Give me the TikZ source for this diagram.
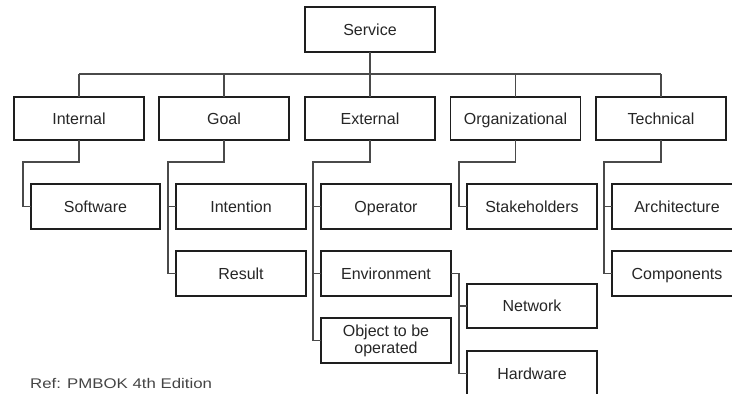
\documentclass[tikz,border=0pt]{standalone}
\usepackage{fontspec}
\setmainfont{Liberation Sans}
\definecolor{txt}{HTML}{262626}
\definecolor{boxline}{HTML}{1E1E1E}
\definecolor{conn}{HTML}{4A4A4A}
\definecolor{reftxt}{HTML}{444444}
\begin{document}
\begin{tikzpicture}[x=1pt,y=-1pt,
  basebox/.style={draw=boxline,line width=1.9pt,fill=white,minimum width=130pt,minimum height=45pt,
    inner sep=0pt,outer sep=0pt,text=txt,font=\fontsize{16}{16.8}\selectfont,align=center},
  box/.style={basebox,text height=12pt,text depth=0.5pt},
  lvl/.style={box,minimum height=43pt},
  link/.style={draw=conn,line width=1.1pt}]
\useasboundingbox (0,0) rectangle (732,394);
% nodes
\node[box] (service) at (370,29.5) {Service};
\node[lvl] (internal) at (79,118.5) {Internal};
\node[lvl] (goal) at (224,118.5) {Goal};
\node[lvl] (external) at (370,118.5) {External};
\node[lvl] (org) at (515.5,118.5) {Organizational};
\node[lvl] (tech) at (661,118.5) {Technical};
\node[box,minimum width=129pt] (software) at (95.5,206.5) {Software};
\node[box] (intention) at (241,206.5) {Intention};
\node[box] (operator) at (386,206.5) {Operator};
\node[box] (stake) at (532,206.5) {Stakeholders};
\node[box] (arch) at (677,206.5) {Architecture};
\node[box] (result) at (241,273.5) {Result};
\node[box] (environment) at (386,273.5) {Environment};
\node[box] (components) at (677,273.5) {Components};
\node[box,minimum height=44pt] (network) at (532,306) {Network};
\node[basebox] (object) at (386,340.5) {Object to be\\operated};
\node[box] (hardware) at (532,373.5) {Hardware};
\node[anchor=base west,inner sep=0pt,text=reftxt] (ref) at (30,388.5)
  {\scalebox{1.2}[1]{\fontsize{14}{15}\selectfont Ref: PMBOK 4th Edition}};
% coordinates
\coordinate (busL) at (79,74);
\coordinate (busR) at (661,74);
\coordinate (iL) at (23,162);
\coordinate (gL) at (168,162);
\coordinate (eL) at (313,162);
\coordinate (oL) at (459,162);
\coordinate (tL) at (604,162);
\coordinate (envR) at (459,273.5);
% bus
\draw[link] (busL) -- (busR);
\draw[link] (service.south) -- (service.south |- busL);
\foreach \n in {internal,goal,external,org,tech}
  \draw[link] (\n.north) -- (\n.north |- busL);
% children
\draw[link] (internal.south) |- (iL) |- (software.west);
\draw[link] (goal.south) |- (gL) |- (result.west);
\draw[link] (gL |- intention.west) -- (intention.west);
\draw[link] (external.south) |- (eL) |- (object.west);
\draw[link] (eL |- operator.west) -- (operator.west);
\draw[link] (eL |- environment.west) -- (environment.west);
\draw[link] (org.south) |- (oL) |- (stake.west);
\draw[link] (tech.south) |- (tL) |- (components.west);
\draw[link] (tL |- arch.west) -- (arch.west);
\draw[link] (environment.east) -- (envR) |- (hardware.west);
\draw[link] (envR |- network.west) -- (network.west);
\end{tikzpicture}
\end{document}
